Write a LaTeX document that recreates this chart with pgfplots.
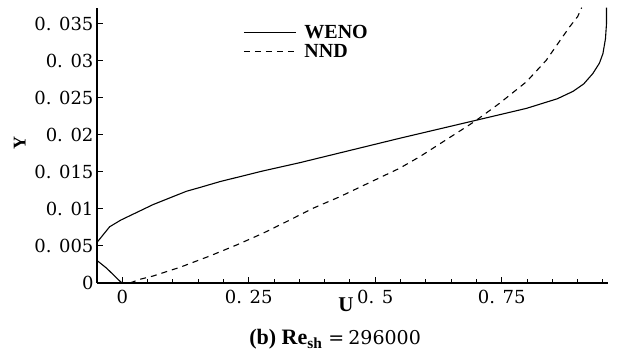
\documentclass[border=0pt]{standalone}
\usepackage{fontspec}
\setmainfont{Liberation Serif}
\newfontfamily\dvs{DejaVu Serif}
\usepackage{pgfplots}
\pgfplotsset{compat=1.18}
\begin{document}
\begin{tikzpicture}
\begin{axis}[
  scale only axis, width=511pt, height=275pt,
  xmin=-0.05, xmax=0.96, ymin=0, ymax=0.03716,
  axis x line*=bottom, axis y line*=left,
  axis line style={-, line width=1.6pt, black},
  xtick={0,0.25,0.5,0.75}, xticklabels={0,{0. 25},{0. 5},{0. 75}},
  minor xtick={-0.05,0.05,0.1,0.15,0.2,0.3,0.35,0.4,0.45,0.55,0.6,0.65,0.7,0.8,0.85,0.9,0.95},
  ytick={0,0.005,0.01,0.015,0.02,0.025,0.03,0.035},
  yticklabels={0,{0. 005},{0. 01},{0. 015},{0. 02},{0. 025},{0. 03},{0. 035}},
  scaled y ticks=false,
  tick align=inside,
  major tick length=6pt, minor tick length=3.5pt,
  every tick/.style={line width=1pt, black},
  ticklabel style={font=\dvs\fontsize{18}{20}\selectfont},
  xticklabel style={yshift=-4pt},
  xlabel={\bfseries U},
  xlabel style={font=\fontsize{21}{23}\selectfont, at={(axis description cs:0.487,-0.08)}, anchor=center},
  ylabel={\bfseries Y},
  ylabel style={font=\fontsize{18}{20}\selectfont, at={(axis description cs:-0.151,0.51)}, anchor=center},
  title={\fontsize{22}{24}\selectfont\bfseries (b) Re$_{\mathbf{sh}}${\dvs\mdseries\fontsize{19}{21}\selectfont\hspace{6pt}=\hspace{4pt}296000}},
  title style={at={(axis description cs:0.466,-0.228)}, anchor=center},
  legend style={at={(axis description cs:0.286,0.945)}, anchor=north west, draw=none, fill=none,
    inner sep=0pt, font=\fontsize{20}{22}\selectfont\bfseries, row sep=0pt,
    /tikz/every odd column/.append style={column sep=6pt}},
  legend cell align=left,
  legend image code/.code={\draw[#1] (0pt,0pt) -- (52pt,0pt);},
  every axis plot/.append style={black, line width=1.1pt},
]
\addplot[solid] coordinates {
 (0,0) (-0.004,0.0002) (-0.031,0.002) (-0.051,0.0031) (-0.06,0.0043) (-0.051,0.0054)
 (-0.025,0.0076) (-0.003,0.0085) (0.061,0.0106) (0.127,0.0124) (0.153,0.0129) (0.193,0.0137)
 (0.278,0.01514) (0.351,0.01626) (0.548,0.01955) (0.700,0.0220) (0.799,0.0236) (0.860,0.0249)
 (0.891,0.0259) (0.912,0.0269) (0.930,0.0283) (0.943,0.0297) (0.950,0.0310) (0.955,0.0330)
 (0.957,0.0350) (0.957,0.0372)
};
\addlegendentry{WENO}
\addplot[dash pattern=on 6pt off 5pt] coordinates {
 (0.015,0) (0.035,0.0005) (0.061,0.00095) (0.114,0.00212) (0.173,0.00365) (0.226,0.00514)
 (0.278,0.00672) (0.331,0.00851) (0.377,0.0101) (0.430,0.01166) (0.548,0.0155) (0.588,0.01707)
 (0.680,0.0211) (0.700,0.0220) (0.746,0.0243) (0.799,0.0272) (0.838,0.0301) (0.884,0.0346)
 (0.900,0.0360) (0.908,0.0372)
};
\addlegendentry{NND}
\coordinate (O) at (rel axis cs:0,0);
\end{axis}
\pgfresetboundingbox
\path (O) ++(-97pt,-78pt) rectangle ++(622pt,361pt);
\end{tikzpicture}
\end{document}
